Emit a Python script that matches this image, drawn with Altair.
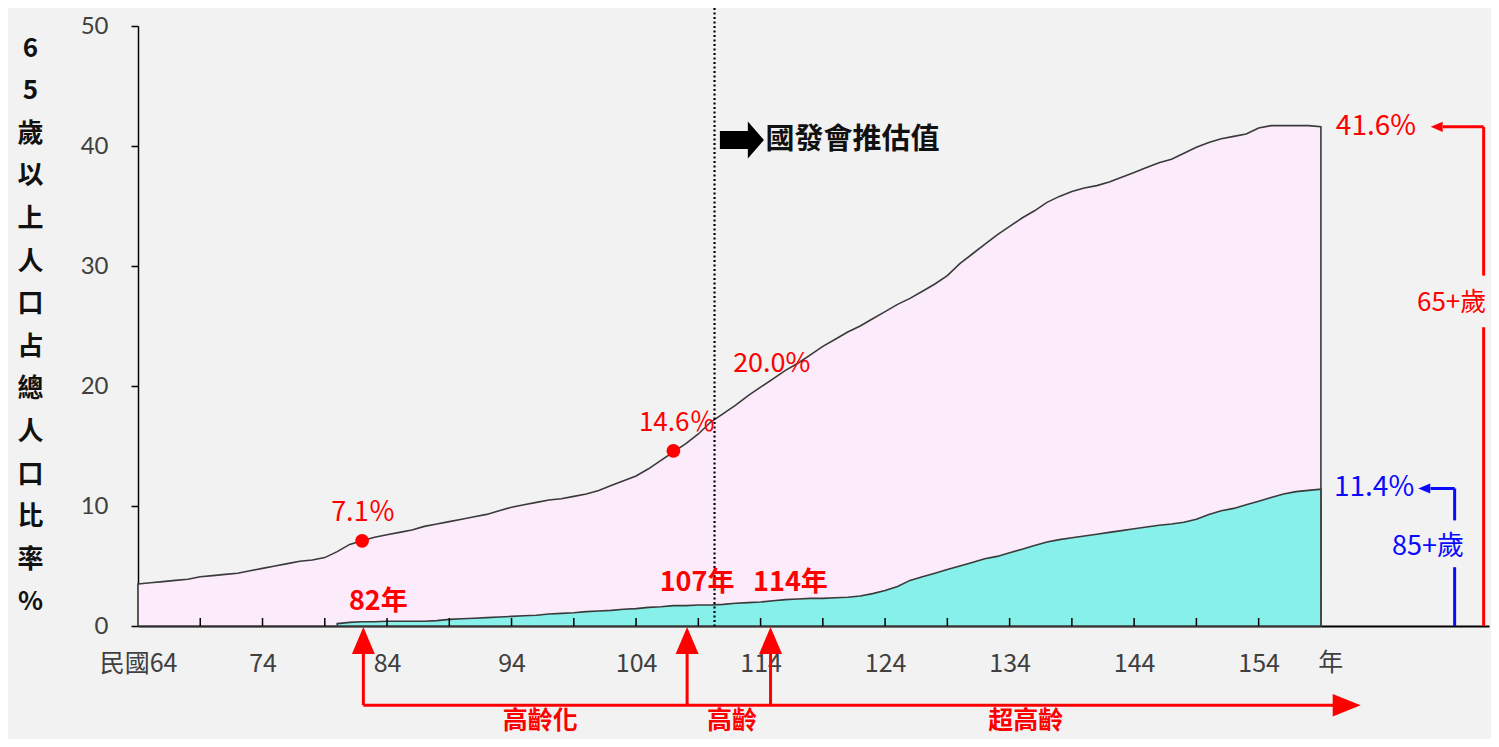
import altair as alt
import pandas as pd

# ---------------- data ----------------
years65 = list(range(64, 160))
pct65 = [
    3.5, 3.6, 3.7, 3.8, 3.9, 4.1, 4.2, 4.3, 4.4, 4.6,        # 64-73
    4.8, 5.0, 5.2, 5.4, 5.5, 5.7, 6.2, 6.8, 7.1, 7.4,        # 74-83
    7.6, 7.8, 8.0, 8.3, 8.5, 8.7, 8.9, 9.1, 9.3, 9.6,        # 84-93
    9.9, 10.1, 10.3, 10.5, 10.6, 10.8, 11.0, 11.3, 11.7, 12.1,  # 94-103
    12.5, 13.1, 13.8, 14.5, 15.2, 16.0, 17.0, 17.7, 18.4, 19.2,  # 104-113
    19.9, 20.6, 21.3, 21.9, 22.6, 23.3, 23.9, 24.5, 25.0, 25.6,  # 114-123
    26.2, 26.8, 27.3, 27.9, 28.5, 29.2, 30.2, 31.0, 31.8, 32.6,  # 124-133
    33.3, 34.0, 34.6, 35.3, 35.8, 36.2, 36.5, 36.7, 37.0, 37.4,  # 134-143
    37.8, 38.2, 38.6, 38.9, 39.4, 39.9, 40.3, 40.6, 40.8, 41.0,  # 144-153
    41.5, 41.7, 41.7, 41.7, 41.7, 41.6,                          # 154-159
]
years85 = list(range(80, 160))
pct85 = [
    0.2, 0.3, 0.35, 0.35, 0.4, 0.4, 0.4, 0.4, 0.45, 0.55,     # 80-89
    0.6, 0.65, 0.7, 0.75, 0.8, 0.85, 0.9, 1.0, 1.05, 1.1,     # 90-99
    1.2, 1.25, 1.3, 1.4, 1.45, 1.55, 1.6, 1.7, 1.7, 1.75,     # 100-109
    1.75, 1.8, 1.9, 1.95, 2.0, 2.1, 2.2, 2.25, 2.3, 2.3,      # 110-119
    2.35, 2.4, 2.5, 2.7, 2.95, 3.3, 3.8, 4.1, 4.4, 4.7,       # 120-129
    5.0, 5.3, 5.6, 5.8, 6.1, 6.4, 6.7, 7.0, 7.2, 7.35,        # 130-139
    7.5, 7.65, 7.8, 7.95, 8.1, 8.25, 8.4, 8.5, 8.65, 8.9,     # 140-149
    9.3, 9.6, 9.8, 10.1, 10.4, 10.7, 11.0, 11.2, 11.3, 11.4,  # 150-159
]
x_label_years = [64, 74, 84, 94, 104, 114, 124, 134, 144, 154]
x_tick_years = [69, 74, 79, 84, 89, 94, 99, 104, 109, 114, 119, 124, 129,
                134, 139, 144, 149, 154]
y_ticks = [0, 10, 20, 30, 40, 50]
y_title = ['6', '5', '歲', '以', '上', '人', '口', '占', '總', '人', '口', '比', '率', '%']

milestone_years = [82, 107]
milestone_pcts = [7.1, 14.6]

# ---------------- style ----------------
FONT = "Noto Sans CJK TC"
PINK = "#fcecfb"
CYAN = "#88f0ea"
RED = "#ff0000"
BLUE = "#0a0aff"
W, H = 1351, 600

xscale = alt.Scale(domain=[64, 172.5], nice=False, zero=False)
yscale = alt.Scale(domain=[0, 50], nice=False)

xaxis = alt.Axis(values=x_label_years, format='d',
                 labelExpr="datum.value == 64 ? '民國64' : datum.label",
                 title=None, ticks=False, grid=False, domainColor='black',
                 domainWidth=2, labelFontSize=25, labelColor='#404040',
                 labelPadding=37, labelBaseline='middle', labelFont=FONT,
                 labelFlush=False, labelOverlap=False)
yaxis = alt.Axis(values=y_ticks, title=y_title, titleAngle=0, titleX=-108,
                 titleY=9, titleAlign='center', titleBaseline='top',
                 titleLineHeight=42.6, titleFontSize=26, titleFontWeight='bold',
                 titleColor='#111111', titleFont=FONT, grid=False,
                 domainColor='black', domainWidth=1.5, tickColor='black',
                 tickSize=7, tickWidth=1.5, labelFontSize=24,
                 labelColor='#404040', labelPadding=23, labelFont='Lato')


def X(f):
    return alt.X(f + ':Q', scale=xscale, axis=xaxis)


def Y(f):
    return alt.Y(f + ':Q', scale=yscale, axis=yaxis)


df65 = pd.DataFrame({'year': years65, 'pct': pct65})
df85 = pd.DataFrame({'year': years85, 'pct': pct85})

area65 = alt.Chart(df65).mark_area(fill=PINK, stroke='#3a3a3a', strokeWidth=1.6).encode(
    x=X('year'), y=Y('pct'))
area85 = alt.Chart(df85).mark_area(fill=CYAN, stroke='#3a3a3a', strokeWidth=1.6).encode(
    x=X('year'), y=Y('pct'))

ticks = alt.Chart(pd.DataFrame({'x': x_tick_years})).mark_rule(
    color='black', strokeWidth=1.5).encode(
    x=X('x'), y=alt.value(H), y2=alt.value(H - 8))

dotted = alt.Chart(pd.DataFrame({'x': [110.3]})).mark_rule(
    color='black', strokeWidth=2.2, strokeDash=[2, 2.5]).encode(
    x=X('x'), y=alt.value(-18), y2=alt.value(H))

dots = alt.Chart(pd.DataFrame({'x': milestone_years, 'y': milestone_pcts})).mark_point(
    shape='circle', filled=True, size=190, color=RED, opacity=1).encode(
    x=X('x'), y=Y('y'))


def seg(rows, color, width=3):
    d = pd.DataFrame(rows, columns=['x', 'x2', 'y', 'y2'])
    return alt.Chart(d).mark_rule(color=color, strokeWidth=width).encode(
        x=X('x'), x2='x2:Q', y=Y('y'), y2='y2:Q')


def head(xs, ys, path, size, color):
    d = pd.DataFrame({'x': xs, 'y': ys})
    return alt.Chart(d).mark_point(shape=path, size=size, filled=True,
                                   color=color, opacity=1, strokeWidth=0).encode(
        x=X('x'), y=Y('y'))


def txt(x, y, s, size, color, weight='normal', align='center'):
    d = pd.DataFrame({'x': [x], 'y': [y], 't': [s]})
    return alt.Chart(d).mark_text(fontSize=size, color=color, fontWeight=weight,
                                  align=align, baseline='middle', font=FONT).encode(
        x=X('x'), y=Y('y'), text='t:N')


UP = "M0,-1 L0.85,1 L-0.85,1 Z"
RIGHT = "M1,0 L-1,-0.8 L-1,0.8 Z"
LEFT = "M-1,0 L1,-0.85 L1,0.85 Z"
BIGARROW = "M-1,-0.41 L0.27,-0.41 L0.27,-0.84 L1,0 L0.27,0.84 L0.27,0.41 L-1,0.41 Z"

# lower stage arrows
ARR_Y = -6.6
low_lines = seg([
    (82.1, 160.0, ARR_Y, ARR_Y),
    (82.1, 82.1, ARR_Y, -2.33),
    (108.1, 108.1, ARR_Y, -2.33),
    (114.8, 114.8, ARR_Y, -2.33),
], RED)
low_heads = head([82.1, 108.1, 114.8], [-1.21, -1.21, -1.21], UP, 729, RED)
right_head = head([161.07], [ARR_Y], RIGHT, 784, RED)

# right side bracket arrows
red_lines = seg([
    (172.07, 172.07, 41.6, 29.2),
    (172.07, 172.07, 24.9, 0),
    (168.8, 172.07, 41.6, 41.6),
], RED)
red_head = head([168.3], [41.6], LEFT, 144, RED)
blue_lines = seg([
    (169.74, 169.74, 11.46, 8.8),
    (169.74, 169.74, 4.9, 0),
    (167.8, 169.74, 11.46, 11.46),
], BLUE)
blue_head = head([167.3], [11.46], LEFT, 144, BLUE)

big_arrow = head([112.5], [40.5], BIGARROW, 1936, 'black')

LOWY = -7.95
texts = [
    txt(114.4, 40.5, '國發會推估值', 29, '#111111', 'bold', 'left'),
    txt(82.1, 9.4, '7.1％', 27, RED),
    txt(107.3, 16.9, '14.6％', 26, RED),
    txt(114.9, 21.8, '20.0%', 27, RED),
    txt(83.3, 2.0, '82年', 27, RED, 'bold'),
    txt(108.9, 3.57, '107年', 27, RED, 'bold'),
    txt(116.4, 3.57, '114年', 27, RED, 'bold'),
    txt(159.8, -3.08, '年', 25, '#404040'),
    txt(96.3, LOWY, '高齡化', 25, RED, 'bold'),
    txt(111.7, LOWY, '高齡', 25, RED, 'bold'),
    txt(135.3, LOWY, '超高齡', 25, RED, 'bold'),
    txt(160.2, 41.6, '41.6%', 28, RED, 'normal', 'left'),
    txt(169.5, 26.9, '65+歲', 26, RED),
    txt(160.05, 11.46, '11.4%', 28, BLUE, 'normal', 'left'),
    txt(167.6, 6.56, '85+歲', 27, BLUE),
]

chart = alt.layer(
    area65, area85, ticks, dotted, dots,
    low_lines, low_heads, right_head,
    red_lines, red_head, blue_lines, blue_head, big_arrow,
    *texts
).properties(
    width=W, height=H,
    padding={'left': 130, 'top': 18, 'right': 2, 'bottom': 113},
    autosize=alt.AutoSizeParams(type='none'),
    background='#f2f2f2',
).configure_view(stroke=None)

chart.save("out.html", embed_options={"renderer": "svg", "actions": False})
